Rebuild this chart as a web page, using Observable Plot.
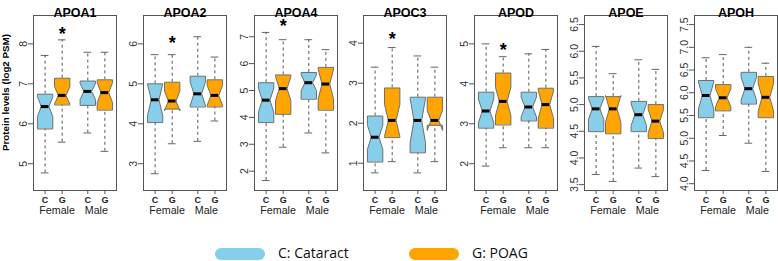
<!DOCTYPE html>
<html>
<head>
<meta charset="utf-8">
<script src="https://cdn.jsdelivr.net/npm/d3@7"></script>
<script src="https://cdn.jsdelivr.net/npm/@observablehq/plot@0.6"></script>
<style>
  html, body { margin: 0; padding: 0; background: #fff; }
  #wrap { position: relative; width: 778px; height: 261px; overflow: hidden; font-family: "Liberation Sans", Arial, sans-serif; }
  #wrap svg { position: absolute; top: 0; max-width: none; background: transparent; overflow: visible; }
  .pill { position: absolute; height: 12px; border-radius: 6px; }
  .ltxt { position: absolute; font-family: "Open Sans", sans-serif; font-size: 14px; line-height: 14px; color: #111; white-space: nowrap; }
</style>
</head>
<body>
<div id="wrap"></div>
<script>
// ---------------- data ----------------
const proteins = ["APOA1", "APOA2", "APOA4", "APOC3", "APOD", "APOE", "APOH"];
const groups = ["C", "G", "C", "G"];
const sexes = ["Female", "Female", "Male", "Male"];
const groupNames = ["C: Cataract", "G: POAG"];

// per protein: [C Female, G Female, C Male, G Male]
const whiskerHigh = [
  [7.71, 8.10, 7.79, 7.79],
  [5.73, 5.73, 6.18, 5.67],
  [7.16, 6.89, 6.89, 6.52],
  [3.40, 3.89, 3.68, 3.40],
  [5.00, 4.68, 4.75, 4.86],
  [6.09, 5.58, 5.84, 5.66],
  [6.77, 6.84, 7.00, 6.65]
];
const upperHinge = [
  [6.74, 7.14, 7.07, 7.10],
  [5.00, 5.04, 5.19, 5.10],
  [5.29, 5.58, 5.67, 5.86],
  [2.18, 2.88, 2.65, 2.65],
  [3.79, 4.27, 3.79, 3.89],
  [5.15, 5.15, 5.06, 5.00],
  [6.27, 6.18, 6.45, 6.36]
];
const medians = [
  [6.43, 6.71, 6.81, 6.78],
  [4.60, 4.57, 4.75, 4.71],
  [4.64, 5.07, 5.29, 5.24],
  [1.65, 2.07, 2.07, 2.07],
  [3.32, 3.56, 3.42, 3.48],
  [4.92, 4.92, 4.81, 4.69],
  [5.94, 5.89, 6.09, 5.90]
];
const lowerHinge = [
  [5.88, 6.48, 6.47, 6.35],
  [4.04, 4.36, 4.43, 4.43],
  [3.82, 4.13, 4.69, 4.28],
  [1.04, 1.65, 1.27, 1.94],
  [2.90, 2.98, 3.08, 2.90],
  [4.50, 4.46, 4.50, 4.37],
  [5.46, 5.61, 5.76, 5.46]
];
const whiskerLow = [
  [4.77, 5.54, 5.77, 5.31],
  [2.75, 3.50, 3.56, 4.07],
  [1.65, 2.89, 3.42, 2.68],
  [0.76, 1.04, 0.76, 1.04],
  [1.94, 2.40, 2.40, 2.40],
  [3.69, 3.56, 3.81, 3.65],
  [4.29, 5.06, 4.89, 4.27]
];
// half-length of the notch around the median
const notchHalf = [
  [0.25, 0.22, 0.20, 0.25],
  [0.40, 0.25, 0.30, 0.25],
  [0.45, 0.45, 0.30, 0.55],
  [0.30, 0.40, 0.55, 0.25],
  [0.30, 0.35, 0.25, 0.35],
  [0.20, 0.25, 0.20, 0.22],
  [0.30, 0.20, 0.25, 0.30]
];
// significance star (above G Female), null = none
const starValue = [8.29, 6.07, 7.45, 4.14, 4.88, null, null];
const yDomains = [
  [4.33, 8.71], [2.33, 6.71], [1.28, 7.79], [0.32, 4.69], [1.33, 5.71], [3.39, 6.67], [3.85, 7.70]
];
const yTicks = [
  [5, 6, 7, 8],
  [3, 4, 5, 6],
  [2, 3, 4, 5, 6, 7],
  [1, 2, 3, 4],
  [2, 3, 4, 5],
  [3.5, 4.0, 4.5, 5.0, 5.5, 6.0, 6.5],
  [4.0, 4.5, 5.0, 5.5, 6.0, 6.5, 7.0, 7.5]
];
const yTickDecimals = [0, 0, 0, 0, 0, 1, 1];
const sexLabels = ["Female", "Male"];
const yLabel = "Protein levels (log2 PSM)";

// ---------------- layout ----------------
const positions = [1, 2, 3.5, 4.5];
const sexLabelPos = [1.7, 4.0];
const xDomain = [0.32, 5.18];
const half = 0.45;
const frameLefts = [33, 143, 254, 363, 474, 584, 694];
const frameW = 83, mTop = 15, mBottom = 30, plotH = 175, mLeft = 33;
const fillColor = {C: "#87CEEB", G: "#FFA500"};

const wrap = document.getElementById("wrap");

proteins.forEach((prot, p) => {
  const boxes = positions.map((x, i) => ({
    id: i, x, group: groups[i], sex: sexes[i],
    hi: whiskerHigh[p][i], q3: upperHinge[p][i], med: medians[p][i],
    q1: lowerHinge[p][i], lo: whiskerLow[p][i],
    nlo: medians[p][i] - notchHalf[p][i], nhi: medians[p][i] + notchHalf[p][i]
  }));
  const poly = [];
  boxes.forEach(b => {
    const pts = [
      [b.x - half, b.q1], [b.x - half, b.nlo], [b.x - half / 2, b.med], [b.x - half, b.nhi], [b.x - half, b.q3],
      [b.x + half, b.q3], [b.x + half, b.nhi], [b.x + half / 2, b.med], [b.x + half, b.nlo], [b.x + half, b.q1]
    ];
    pts.forEach(([x, y]) => poly.push({id: b.id, group: b.group, x, y}));
  });
  const tickLab = new Map(positions.map((x, i) => [x, groups[i]]));
  const fmt = d3.format("." + yTickDecimals[p] + "f");
  const marks = [
    Plot.ruleX(boxes, {x: "x", y1: "q3", y2: "hi", stroke: "#444", strokeDasharray: "3,3", strokeWidth: 0.9}),
    Plot.ruleX(boxes, {x: "x", y1: "lo", y2: "q1", stroke: "#444", strokeDasharray: "3,3", strokeWidth: 0.9}),
    Plot.ruleY(boxes, {y: "hi", x1: d => d.x - half / 2, x2: d => d.x + half / 2, stroke: "#555", strokeWidth: 0.9}),
    Plot.ruleY(boxes, {y: "lo", x1: d => d.x - half / 2, x2: d => d.x + half / 2, stroke: "#555", strokeWidth: 0.9}),
    Plot.line(poly.filter(d => d.group === "C"), {x: "x", y: "y", z: "id", curve: "linear-closed", fill: fillColor.C, stroke: "#6f6f6f", strokeWidth: 1, strokeLinejoin: "miter"}),
    Plot.line(poly.filter(d => d.group === "G"), {x: "x", y: "y", z: "id", curve: "linear-closed", fill: fillColor.G, stroke: "#6f6f6f", strokeWidth: 1, strokeLinejoin: "miter"}),
    Plot.ruleY(boxes, {y: "med", x1: d => d.x - half / 2, x2: d => d.x + half / 2, stroke: "#000", strokeWidth: 3}),
    Plot.frame({stroke: "#555", strokeWidth: 1}),
    Plot.axisY({ticks: yTicks[p], tickFormat: fmt, tickRotate: -90, tickSize: 5, tickPadding: 2, fontSize: 10.5, stroke: "#555", fill: "#333", label: null}),
    Plot.axisX({ticks: positions, tickFormat: d => tickLab.get(d), tickSize: 4, tickPadding: 2, fontSize: 9, fontWeight: "bold", stroke: "#555", fill: "#222", label: null}),
    Plot.text(sexLabels, {x: (d, i) => sexLabelPos[i], text: d => d, frameAnchor: "bottom", dy: 23.5, fontSize: 10.7, fill: "#222"}),
    Plot.text([prot], {frameAnchor: "top", dy: -7.5, fontSize: 12.5, fontWeight: "bold", fill: "#000"})
  ];
  if (starValue[p] !== null) {
    marks.push(Plot.text([starValue[p]], {x: positions[1], y: d => d, text: () => "*", fontSize: 18, fontWeight: "bold", dy: 2, fill: "#000"}));
  }
  if (p === 0) {
    marks.push(Plot.text([yLabel], {frameAnchor: "left", textAnchor: "middle", rotate: -90, dx: -27.5, dy: -10.5, fontSize: 9.8, fontWeight: "bold", fill: "#000"}));
  }
  const svg = Plot.plot({
    width: mLeft + frameW + 1,
    height: mTop + plotH + mBottom,
    marginLeft: mLeft, marginRight: 1, marginTop: mTop, marginBottom: mBottom,
    style: {fontFamily: "'Liberation Sans', Arial, sans-serif", background: "transparent", overflow: "visible"},
    x: {domain: xDomain},
    y: {domain: yDomains[p]},
    marks
  });
  svg.style.left = (frameLefts[p] - mLeft) + "px";
  svg.style.maxWidth = "none";
  wrap.appendChild(svg);
});

// legend
const legendX = [215, 409];
groupNames.forEach((name, i) => {
  const pill = document.createElement("div");
  pill.className = "pill";
  pill.style.left = legendX[i] + "px";
  pill.style.top = "248px";
  pill.style.width = "50px";
  pill.style.background = fillColor[groups[i]];
  wrap.appendChild(pill);
  const t = document.createElement("div");
  t.className = "ltxt";
  t.textContent = name;
  t.style.left = (legendX[i] + 63) + "px";
  t.style.top = "246px";
  wrap.appendChild(t);
});
</script>
</body>
</html>
